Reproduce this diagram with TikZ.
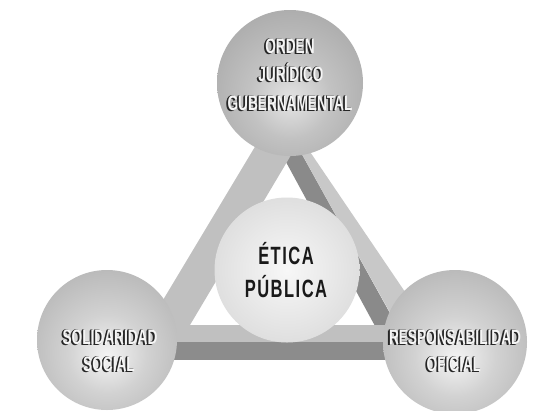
\documentclass[tikz,border=0pt]{standalone}
\usepackage{fontspec}
\setmainfont{Liberation Sans}
\newfontfamily\embfont[FakeStretch=0.65]{Liberation Sans}
\newfontfamily\etfont[FakeStretch=0.66,LetterSpace=6]{Liberation Sans}
\definecolor{barleft}{HTML}{C0C0C0}
\definecolor{barlight}{HTML}{C8C8C8}
\definecolor{bardark}{HTML}{8A8A8A}
\definecolor{bartop}{HTML}{C0C0C0}
\definecolor{barfront}{HTML}{8C8C8C}
\definecolor{tHL}{HTML}{E4E4E4}
\definecolor{tMid}{HTML}{C2C2C2}
\definecolor{tOut}{HTML}{A6A6A6}
\definecolor{tEdge}{HTML}{8E8E8E}
\definecolor{sHL}{HTML}{F4F4F4}
\definecolor{sMid}{HTML}{D2D2D2}
\definecolor{sOut}{HTML}{B2B2B2}
\definecolor{sEdge}{HTML}{989898}
\definecolor{cHL}{HTML}{F7F7F7}
\definecolor{cMid}{HTML}{E8E8E8}
\definecolor{cOut}{HTML}{D4D4D4}
\definecolor{cEdge}{HTML}{BEBEBE}
\pgfdeclareradialshading{sphtop}{\pgfpoint{0bp}{-6bp}}{color(0bp)=(tHL); color(14bp)=(tMid); color(34bp)=(tOut); color(50bp)=(tEdge); color(75bp)=(tEdge)}
\pgfdeclareradialshading{sphside}{\pgfpoint{0bp}{-6bp}}{color(0bp)=(sHL); color(14bp)=(sMid); color(34bp)=(sOut); color(50bp)=(sEdge); color(75bp)=(sEdge)}
\pgfdeclareradialshading{sphcenter}{\pgfpoint{0bp}{0bp}}{color(0bp)=(cHL); color(16bp)=(cMid); color(36bp)=(cOut); color(50bp)=(cEdge); color(75bp)=(cEdge)}
\newcommand\embtext[4]{%
  \node[embshadow] (#1-a) at (#2-1.8,#3+1.3) {#4};
  \node[embshadow] (#1-b) at (#2-1.2,#3+0.9) {#4};
  \node[embshadow] (#1-c) at (#2-0.6,#3+0.45) {#4};
  \node[embface] (#1) at (#2,#3) {#4};}
\begin{document}
\begin{tikzpicture}[x=1pt,y=-1pt,
  sphere/.style={circle,inner sep=0pt,shade,draw=none},
  embshadow/.style={anchor=base,inner sep=0pt,text=black!85,font={\embfont\bfseries\fontsize{21}{21}\selectfont}},
  embface/.style={anchor=base,inner sep=0pt,text=white!96!black,font={\embfont\bfseries\fontsize{21}{21}\selectfont}},
  ettext/.style={anchor=base,inner sep=0pt,text=black!90,font={\etfont\bfseries\fontsize{25}{25}\selectfont}}]
\useasboundingbox (0,0) rectangle (554,410);
\fill[white] (0,0) rectangle (554,410);
% right bar: dark inner face and light outer face
\fill[bardark] (286,162) -- (274,140) -- (294,140) -- (397,326) -- (375,326) -- cycle;
\fill[barlight] (294,140) -- (302,140) -- (441,345) -- (408,345) -- cycle;
% left bar
\fill[barleft] (259,140) -- (300,140) -- (190,325) -- (180,345) -- (136,345) -- cycle;
% bottom bar
\fill[bartop] (170,325) rectangle (400,342);
\fill[barfront] (170,342) rectangle (400,360);
% spheres
\node[sphere,shading=sphcenter,minimum size=145pt] (etica) at (287,270) {};
\node[sphere,shading=sphtop,minimum size=146pt] (orden) at (290,83) {};
\node[sphere,shading=sphside,minimum size=140pt] (solid) at (107,340) {};
\node[sphere,shading=sphside,minimum size=144pt] (resp) at (455,342) {};
% labels
\embtext{t1}{290}{53}{ORDEN}
\embtext{t2}{291}{81}{JURÍDICO}
\embtext{t3}{290}{110}{GUBERNAMENTAL}
\embtext{l1}{110}{344}{SOLIDARIDAD}
\embtext{l2}{109}{371}{SOCIAL}
\embtext{r1}{455}{344}{RESPONSABILIDAD}
\embtext{r2}{454}{371}{OFICIAL}
\node[ettext] (e1) at (286,264) {ÉTICA};
\node[ettext] (e2) at (286,297) {PÚBLICA};
\end{tikzpicture}
\end{document}
